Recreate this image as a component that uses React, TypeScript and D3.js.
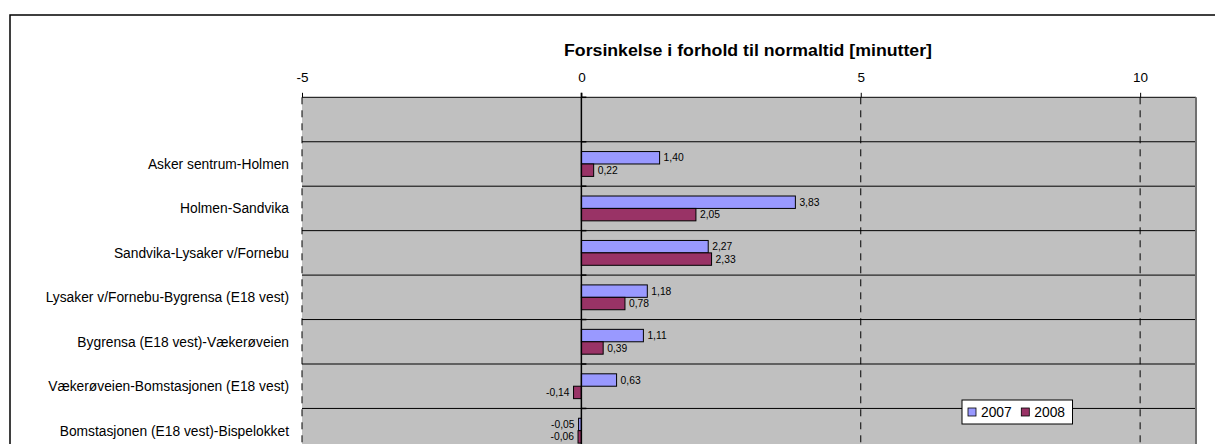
import React, { useEffect, useRef } from 'react'
import * as d3 from 'd3'

// categories, top row of the chart is empty
const categories = [
  '',
  'Asker sentrum-Holmen',
  'Holmen-Sandvika',
  'Sandvika-Lysaker v/Fornebu',
  'Lysaker v/Fornebu-Bygrensa (E18 vest)',
  'Bygrensa (E18 vest)-Vækerøveien',
  'Vækerøveien-Bomstasjonen (E18 vest)',
  'Bomstasjonen (E18 vest)-Bispelokket',
]
const series = ['2007', '2008']
const values2007 = [null, 1.40, 3.83, 2.27, 1.18, 1.11, 0.63, -0.05]
const values2008 = [null, 0.22, 2.05, 2.33, 0.78, 0.39, -0.14, -0.06]
const xTicks = [-5, 0, 5, 10]
const colors = ['#9999FF', '#993366']
const title = 'Forsinkelse i forhold til normaltid [minutter]'

const fmt = (v: number) => v.toFixed(2).replace('.', ',')

export default function App() {
  const ref = useRef<SVGSVGElement>(null)

  useEffect(() => {
    const svg = d3.select(ref.current)
    svg.selectAll('*').remove()

    const left = 302, right = 1196, top = 97.3, rowH = 44.45
    const bottom = top + rowH * categories.length

    // outer chart border
    svg.append('rect')
      .attr('x', 10).attr('y', 15)
      .attr('width', 1220).attr('height', 500)
      .attr('fill', '#fff').attr('stroke', '#000').attr('stroke-width', 1.5)

    const x = d3.scaleLinear().domain([-5, 11]).range([left, right])
    const y0 = d3.scaleBand<string>().domain(categories.map((c, i) => i + '')).range([top, bottom])
    const y1 = d3.scaleBand<string>().domain(series).range([0, y0.bandwidth()]).paddingOuter(0.79)

    // plot area
    svg.append('rect')
      .attr('x', left).attr('y', top)
      .attr('width', right - left).attr('height', bottom - top)
      .attr('fill', '#C0C0C0')

    // category separators
    const bounds = categories.map((c, i) => y0(i + '') as number).concat([bottom])
    svg.append('g').selectAll('line').data(bounds).enter().append('line')
      .attr('x1', left).attr('x2', right)
      .attr('y1', d => d).attr('y2', d => d)
      .attr('stroke', '#000').attr('stroke-width', 1)

    // dashed value gridlines
    svg.append('g').selectAll('line').data(xTicks.filter(t => t !== 0)).enter().append('line')
      .attr('x1', d => x(d)).attr('x2', d => x(d))
      .attr('y1', top).attr('y2', bottom)
      .attr('stroke', '#000').attr('stroke-width', 1)
      .attr('stroke-dasharray', '7,6')

    // right border of plot area
    svg.append('line')
      .attr('x1', right).attr('x2', right).attr('y1', top).attr('y2', bottom)
      .attr('stroke', '#707070').attr('stroke-width', 2)

    // top value axis
    const axis = svg.append('g')
      .attr('transform', 'translate(0,' + top + ')')
      .call(d3.axisTop(x).tickValues(xTicks).tickSize(4.5).tickPadding(11).tickFormat(d => String(d)))
    axis.select('.domain').remove()
    axis.selectAll('text')
      .attr('font-family', 'Arial, "Liberation Sans", sans-serif')
      .attr('font-size', 13.5).attr('fill', '#000')
    axis.selectAll('line').attr('stroke', '#000')

    // title
    svg.append('text')
      .attr('x', 748).attr('y', 56)
      .attr('text-anchor', 'middle')
      .attr('font-family', 'Arial, "Liberation Sans", sans-serif')
      .attr('font-weight', 'bold').attr('font-size', 16)
      .attr('textLength', 368).attr('lengthAdjust', 'spacingAndGlyphs')
      .text(title)

    // bars
    const rows = categories.map((c, i) => ({
      key: i + '',
      vals: [values2007[i], values2008[i]],
    }))
    const groups = svg.append('g').selectAll('g').data(rows).enter().append('g')
      .attr('transform', d => 'translate(0,' + y0(d.key) + ')')
    const cells = groups.selectAll('g')
      .data(d => series.map((s, j) => ({ s, j, v: d.vals[j] })).filter(e => e.v !== null))
      .enter().append('g')
    cells.append('rect')
      .attr('x', d => x(Math.min(0, d.v as number)))
      .attr('y', d => y1(d.s) as number)
      .attr('width', d => Math.abs(x(d.v as number) - x(0)))
      .attr('height', y1.bandwidth())
      .attr('fill', d => colors[d.j])
      .attr('stroke', '#000').attr('stroke-width', 1)
    cells.append('text')
      .attr('x', d => (d.v as number) >= 0 ? x(d.v as number) + 4 : x(d.v as number) - 4)
      .attr('y', d => (y1(d.s) as number) + y1.bandwidth() / 2)
      .attr('dy', '0.35em')
      .attr('text-anchor', d => (d.v as number) >= 0 ? 'start' : 'end')
      .attr('font-family', 'Arial, "Liberation Sans", sans-serif')
      .attr('font-size', 10.3).attr('fill', '#000')
      .text(d => fmt(d.v as number))

    // zero axis with ticks
    svg.append('line')
      .attr('x1', x(0)).attr('x2', x(0)).attr('y1', top - 4.5).attr('y2', bottom)
      .attr('stroke', '#000').attr('stroke-width', 1.5)
    svg.append('g').selectAll('line').data(bounds).enter().append('line')
      .attr('x1', x(0)).attr('x2', x(0) + 5)
      .attr('y1', d => d).attr('y2', d => d)
      .attr('stroke', '#000').attr('stroke-width', 1.5)

    // category labels
    svg.append('g').selectAll('text').data(rows).enter().append('text')
      .attr('x', 289)
      .attr('y', d => (y0(d.key) as number) + y0.bandwidth() / 2)
      .attr('dy', '0.35em')
      .attr('text-anchor', 'end')
      .attr('font-family', 'Arial, "Liberation Sans", sans-serif')
      .attr('font-size', 13.8).attr('fill', '#000')
      .text((d, i) => categories[i])

    // legend
    const lg = svg.append('g').attr('transform', 'translate(962,400)')
    lg.append('rect').attr('width', 110.5).attr('height', 24)
      .attr('fill', '#fff').attr('stroke', '#000').attr('stroke-width', 1)
    const item = lg.selectAll('g.item').data(series).enter().append('g')
      .attr('transform', (d, i) => 'translate(' + (6 + i * 53.3) + ',0)')
    item.append('rect')
      .attr('y', 8).attr('width', 8).attr('height', 8)
      .attr('fill', (d, i) => colors[i]).attr('stroke', '#000').attr('stroke-width', 0.8)
    item.append('text')
      .attr('x', 13).attr('y', 17.3)
      .attr('font-family', 'Arial, "Liberation Sans", sans-serif')
      .attr('font-size', 13.8).attr('fill', '#000')
      .text(d => d)
  }, [])

  return (
    <svg ref={ref} width={1215} height={444}
      style={{ position: 'absolute', left: 0, top: 0, background: '#fff' }} />
  )
}
